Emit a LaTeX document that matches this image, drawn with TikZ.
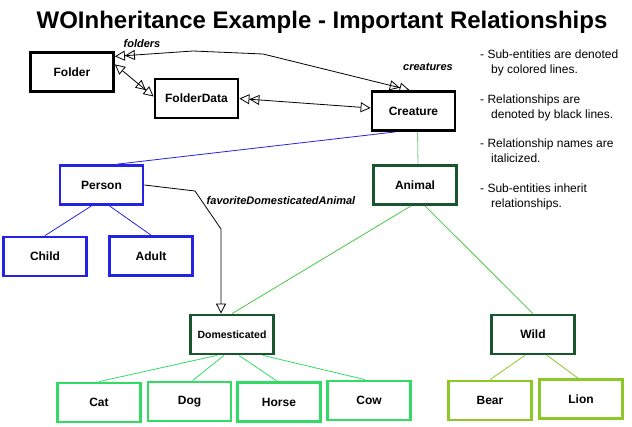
\documentclass[tikz,border=0pt]{standalone}
\usepackage{fontspec}
\setmainfont{Liberation Sans}
\usetikzlibrary{calc}
\usetikzlibrary{arrows.meta}
\definecolor{cb}{RGB}{35,35,225}
\definecolor{cg1}{RGB}{25,85,45}
\definecolor{cg2}{RGB}{50,220,100}
\definecolor{cg3}{RGB}{140,200,40}
\definecolor{cl1}{RGB}{130,200,130}
\definecolor{cl2}{RGB}{70,200,70}

\tikzset{
    tri/.tip={Triangle[open,length=10pt,width=10pt]},
    box/.style={draw,line width=2.8pt,fill=white,minimum width=83pt,minimum height=39pt,
        inner sep=0pt,font=\fontsize{12}{14}\selectfont\bfseries},
    rel/.style={line width=0.8pt},
    relname/.style={font=\fontsize{11}{13}\selectfont\bfseries\itshape},
    sub/.style={line width=0.8pt},
    note/.style={anchor=north west,align=left,inner sep=0pt,font=\fontsize{12}{15}\selectfont}
}

\begin{document}
\begin{tikzpicture}[x=1pt,y=-1pt]
    \useasboundingbox (0,0) rectangle (632,426);
    \node[anchor=base,inner sep=0pt,font=\fontsize{24}{28}\selectfont\bfseries] (title) at (322,28) {WOInheritance Example - Important Relationships};

    % relationship entities
    \node[box] (folder) at (72,72) {Folder};
    \node[box] (folderdata) at (196.5,98.5) {FolderData};
    \node[box] (creature) at (413.5,111) {Creature};

    % sub-entities
    \node[box,draw=cb] (person) at (101.5,185) {Person};
    \node[box,draw=cb] (child) at (45,256.5) {Child};
    \node[box,draw=cb] (adult) at (151,256) {Adult};
    \node[box,draw=cg1] (animal) at (415,185) {Animal};
    \node[box,draw=cg1,font=\fontsize{10.5}{12}\selectfont\bfseries] (dom) at (232,334.5) {Domesticated};
    \node[box,draw=cg1] (wild) at (533,334.5) {Wild};
    \node[box,draw=cg2] (cat) at (99,402.5) {Cat};
    \node[box,draw=cg2] (dog) at (189.5,401.5) {Dog};
    \node[box,draw=cg2] (horse) at (279,402) {Horse};
    \node[box,draw=cg2] (cow) at (369,400.5) {Cow};
    \node[box,draw=cg3] (bear) at (490,400.5) {Bear};
    \node[box,draw=cg3] (lion) at (581,399) {Lion};

    % colored lines
    \draw[sub,draw=cb] ($(creature.south)+(-18,0)$) -- ($(person.north)+(16,0)$);
    \draw[sub,draw=cb] ($(person.south)+(-10,0)$) -- (child.north);
    \draw[sub,draw=cb] ($(person.south)+(8,0)$) -- (adult.north);
    \draw[sub,draw=cl1] ($(creature.south)+(4,0)$) -- ($(animal.north)+(3,0)$);
    \draw[sub,draw=cl2] ($(animal.south)+(-4,0)$) -- (dom.north);
    \draw[sub,draw=cl2] ($(animal.south)+(10,0)$) -- (wild.north);
    \draw[sub,draw=cg2] ($(dom.south)+(-15,0)$) -- (cat.north);
    \draw[sub,draw=cg2] ($(dom.south)+(-8,0)$) -- ($(dog.north)+(3,0)$);
    \draw[sub,draw=cg2] ($(dom.south)+(7,0)$) -- ($(horse.north)+(-2,0)$);
    \draw[sub,draw=cg2] ($(dom.south)+(31,0)$) -- ($(cow.north)+(-4,0)$);
    \draw[sub,draw=cg3] ($(wild.south)+(-8,0)$) -- (bear.north);
    \draw[sub,draw=cg3] ($(wild.south)+(14,0)$) -- ($(lion.north)+(-3,0)$);

    % black lines
    \draw[rel,{tri[]tri[]}-{tri[]tri[]}] (folder.20) -- (193,51) -- (263,54) -- ($(creature.north)+(-4,0)$);
    \draw[rel,{tri[]}-{tri[]tri[]}] (folder.10) -- ($(folderdata.west)+(0,-2)$);
    \draw[rel,{tri[]tri[]}-{tri[]}] (folderdata.east) -- ($(creature.west)+(0,-3)$);
    \draw[rel,-{tri[]}] (person.east) -- (195,191) -- (221,229) -- ($(dom.north)+(-11,0)$);
    \node[relname] (folders) at (142,44) {folders};
    \node[relname] (creatures) at (428,67) {creatures};
    \node[relname] (fav) at (281,201) {favoriteDomesticatedAnimal};

    % notes
    \node[note] (n1) at (480,50) {- Sub-entities are denoted\\\hspace*{11pt}by colored lines.};
    \node[note] (n2) at (480,95) {- Relationships are\\\hspace*{11pt}denoted by black lines.};
    \node[note] (n3) at (480,139) {- Relationship names are\\\hspace*{11pt}italicized.};
    \node[note] (n4) at (480,184) {- Sub-entities inherit\\\hspace*{11pt}relationships.};
\end{tikzpicture}
\end{document}
